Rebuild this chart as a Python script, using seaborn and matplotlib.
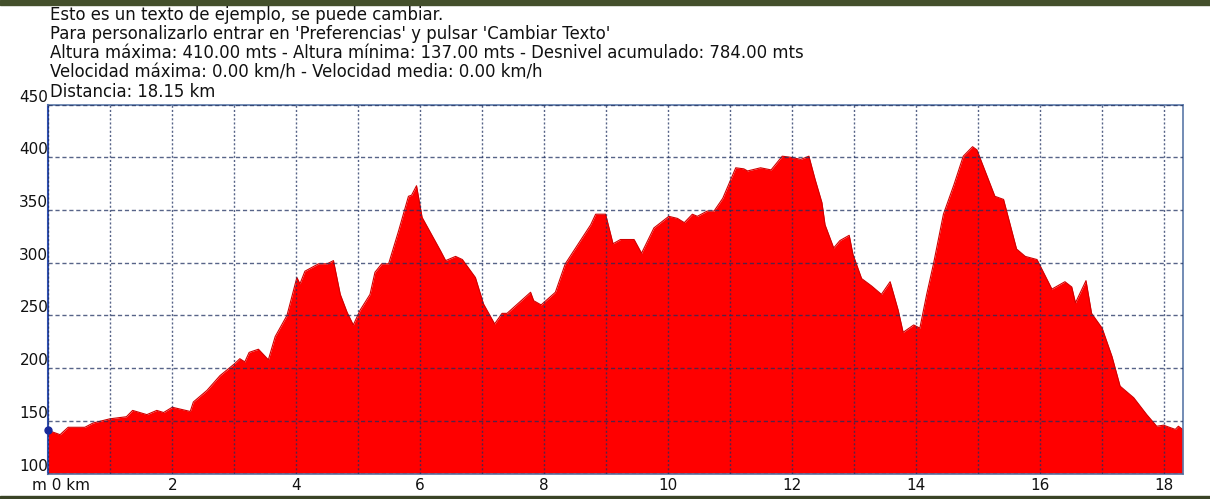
import numpy as np
import pandas as pd
import matplotlib
matplotlib.use("Agg")
import matplotlib.pyplot as plt
import seaborn as sns
from matplotlib.patches import Rectangle
from matplotlib.ticker import MultipleLocator, FuncFormatter

# profile (km, m)
dist = [0.0, 0.19, 0.32, 0.59, 0.72, 0.99, 1.26, 1.36, 1.59, 1.75,
        1.86, 2.0, 2.29, 2.34, 2.56, 2.77, 3.0, 3.09, 3.17, 3.24,
        3.39, 3.55, 3.66, 3.85, 4.01, 4.06, 4.14, 4.36, 4.5, 4.6,
        4.71, 4.82, 4.92, 5.03, 5.19, 5.27, 5.38, 5.49, 5.65, 5.81,
        5.86, 5.94, 6.03, 6.33, 6.41, 6.57, 6.68, 6.89, 7.02, 7.2,
        7.32, 7.4, 7.78, 7.83, 7.95, 8.18, 8.34, 8.75, 8.83, 8.99,
        9.11, 9.23, 9.45, 9.57, 9.77, 10.01, 10.15, 10.26, 10.39, 10.47,
        10.63, 10.74, 10.88, 11.09, 11.22, 11.28, 11.49, 11.66, 11.84, 11.97,
        12.14, 12.27, 12.37, 12.48, 12.53, 12.67, 12.77, 12.92, 12.98, 13.12,
        13.28, 13.44, 13.58, 13.71, 13.79, 13.96, 14.06, 14.17, 14.28, 14.44,
        14.61, 14.76, 14.91, 14.98, 15.27, 15.41, 15.62, 15.76, 15.95, 16.19,
        16.4, 16.51, 16.57, 16.74, 16.83, 17.0, 17.16, 17.29, 17.51, 17.72,
        17.88, 17.99, 18.18, 18.23, 18.30]
elev = [141, 137, 144, 144, 148, 152, 154, 160, 156, 160,
        158, 163, 159, 168, 179, 193, 204, 209, 206, 215,
        218, 208, 230, 250, 286, 280, 292, 299, 299, 302,
        270, 253, 241, 255, 270, 291, 299, 299, 330, 363,
        364, 373, 343, 311, 302, 306, 303, 286, 261, 242,
        252, 252, 272, 264, 260, 272, 299, 336, 346, 346,
        318, 322, 322, 309, 333, 344, 342, 338, 346, 344,
        349, 349, 361, 390, 389, 387, 390, 388, 401, 400,
        398, 401, 379, 357, 336, 314, 321, 326, 308, 285,
        278, 270, 282, 255, 234, 241, 238, 270, 299, 346,
        374, 401, 410, 407, 363, 360, 313, 306, 303, 275,
        282, 277, 262, 283, 252, 238, 211, 183, 172, 156,
        145, 146, 142, 145, 142]

header = [
    "Esto es un texto de ejemplo, se puede cambiar.",
    "Para personalizarlo entrar en 'Preferencias' y pulsar 'Cambiar Texto'",
    "Altura máxima: 410.00 mts - Altura mínima: 137.00 mts - Desnivel acumulado: 784.00 mts",
    "Velocidad máxima: 0.00 km/h - Velocidad media: 0.00 km/h",
    "Distancia: 18.15 km",
]

df = pd.DataFrame({"km": dist, "m": elev})

sns.set_style("white")
plt.rcParams["font.family"] = ["DejaVu Sans"]

W, H = 1210, 499
fig = plt.figure(figsize=(W / 100, H / 100), dpi=100)
fig.patch.set_facecolor("white")

# plot box in pixels
x0, x1, ytop, ybot = 48.3, 1182.7, 104.5, 473.7
ax = fig.add_axes([x0 / W, (H - ybot) / H, (x1 - x0) / W, (ybot - ytop) / H])

ax.fill_between(df["km"], 100, df["m"], color="#ff0000", lw=0, zorder=1)
sns.lineplot(data=df, x="km", y="m", ax=ax, color="#d00000", lw=0.8, zorder=2)
ax.plot(dist[0], elev[0], "o", color="#1a2a9a", ms=5, zorder=4, clip_on=False)

ax.set_xlim(0, 18.30)
ax.set_ylim(100, 450)
ax.set_xlabel("")
ax.set_ylabel("")

ax.xaxis.set_major_locator(MultipleLocator(1))
ax.xaxis.set_major_formatter(FuncFormatter(
    lambda v, p: f"{int(round(v))}" if round(v) % 2 == 0 and round(v) > 0 else ""))
ax.set_yticks(np.arange(100, 451, 50))

ax.set_axisbelow(False)
ax.grid(axis="x", color="#1f3060", alpha=0.75, lw=1, linestyle=(0, (1.5, 1.5)))
ax.grid(axis="y", color="#1f3060", alpha=0.75, lw=1, linestyle=(0, (3, 2)))

ax.tick_params(axis="both", length=0, labelsize=11, labelcolor="#111111")
ax.tick_params(axis="x", pad=3)
ax.tick_params(axis="y", pad=0)
for lbl in ax.get_yticklabels():
    lbl.set_va("bottom")

for side in ["top", "right", "bottom"]:
    ax.spines[side].set_color("#5a78a8")
    ax.spines[side].set_linewidth(1.2)
ax.spines["left"].set_color("#3050b0")
ax.spines["left"].set_linewidth(1.5)

ax.annotate("m 0 km", xy=(0, 0), xycoords="axes fraction",
            xytext=(-12, -3), textcoords="offset points",
            ha="left", va="top", fontsize=11, color="#111111")

# header lines
baselines = [19.5, 39.0, 58.3, 77.5, 97.0]
for txt, b in zip(header, baselines):
    fig.text(50 / W, (H - b) / H, txt, ha="left", va="baseline",
             fontsize=11.9, color="#111111")

# photo strips at the top and bottom edges
fig.patches.append(Rectangle((0, 1 - 5 / H), 1, 5 / H, transform=fig.transFigure,
                             color="#44502c", zorder=0))
fig.patches.append(Rectangle((0, 0), 1, 3 / H, transform=fig.transFigure,
                             color="#3a4426", zorder=0))

fig.savefig("out.png", dpi=100)
